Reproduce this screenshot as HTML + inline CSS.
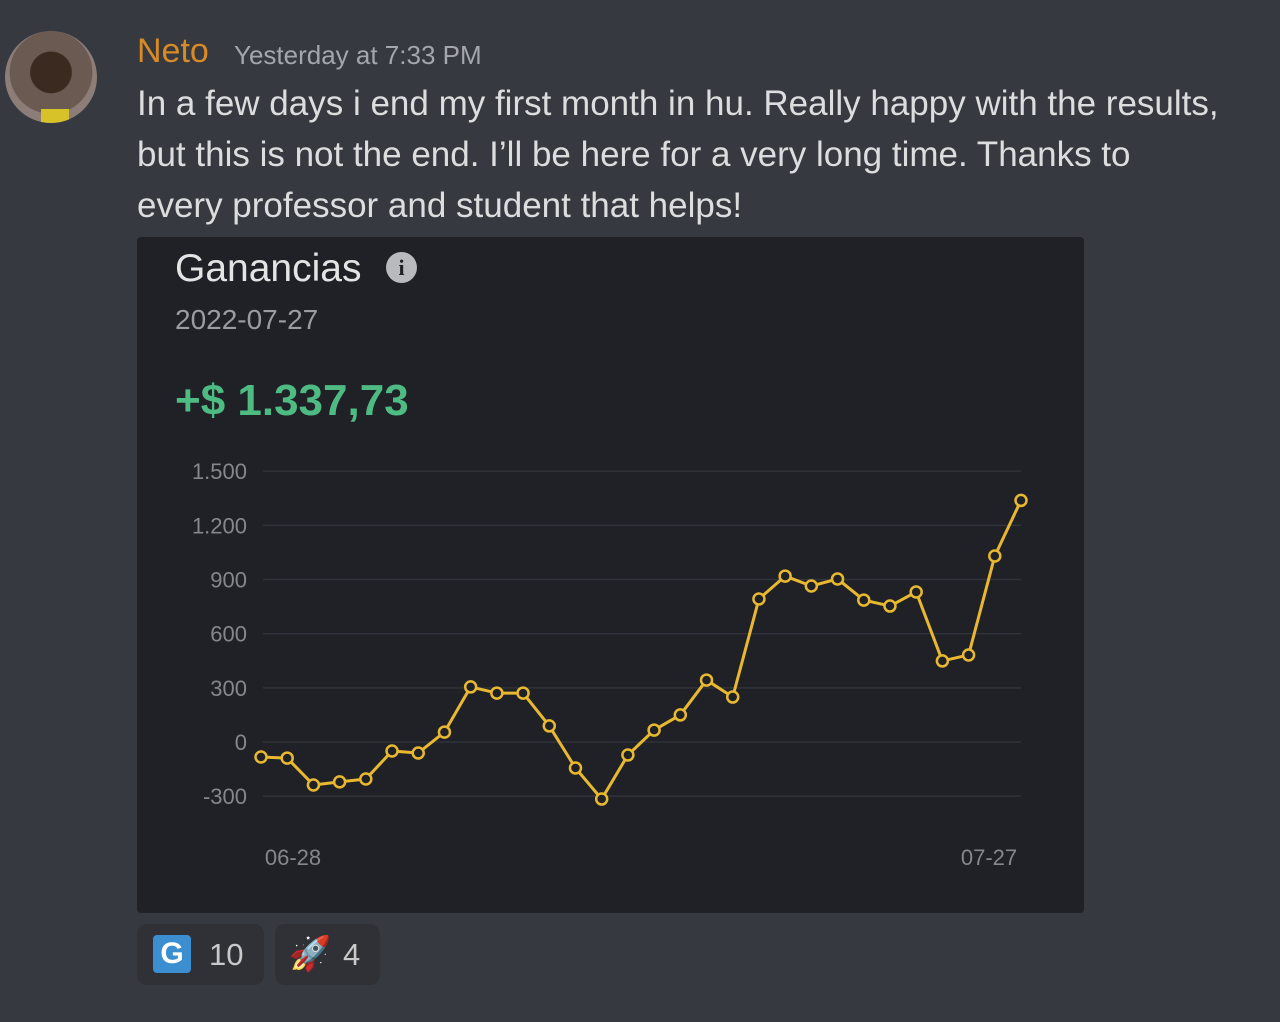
<!DOCTYPE html>
<html><head><meta charset="utf-8"><style>
body{margin:0;width:1280px;height:1022px;background:#36393f;overflow:hidden;font-family:"Liberation Sans",sans-serif;position:relative}
.abs{position:absolute;white-space:nowrap}
</style></head><body>
<div class="abs" style="left:5px;top:31px;width:92px;height:92px;border-radius:50%;background:radial-gradient(circle at 50% 45%,#3a2a20 0 30%,#6b5a52 31% 60%,#8c7d78 61%);overflow:hidden"><div style="position:absolute;left:36px;top:78px;width:28px;height:14px;background:#d8c22a"></div></div>
<div class="abs" style="left:137px;top:32px;font-size:34px;color:#d78a25">Neto</div>
<div class="abs" style="left:234px;top:40px;font-size:26px;color:#a3a6aa">Yesterday at 7:33 PM</div>
<div class="abs" style="left:137px;top:78px;font-size:35px;line-height:51px;color:#dcddde">In a few days i end my first month in hu. Really happy with the results,<br>but this is not the end. I’ll be here for a very long time. Thanks to<br>every professor and student that helps!</div>
<div class="abs" style="left:137px;top:237px;width:947px;height:676px;background:#1f2127;border-radius:4px"></div>
<div class="abs" style="left:175px;top:247px;font-size:39px;color:#e4e4e4">Ganancias</div>
<div class="abs" style="left:386px;top:252px;width:31px;height:31px;border-radius:50%;background:#b8babd;color:#1f2127;font-weight:bold;font-size:22px;text-align:center;line-height:31px;font-family:'Liberation Serif',serif">i</div>
<div class="abs" style="left:175px;top:304px;font-size:28px;color:#9a9ca0">2022-07-27</div>
<div class="abs" style="left:175px;top:376px;font-size:44px;color:#4dbb82;font-weight:bold">+$ 1.337,73</div>
<svg class="abs" style="left:0;top:0" width="1280" height="1022" id="chart"></svg>
<div class="abs" style="left:137px;top:924px;width:127px;height:61px;border-radius:10px;background:#2f3136">
<div style="position:absolute;left:16px;top:11px;width:38px;height:38px;border-radius:4px;background:#3b8fd0;color:#fff;font-weight:bold;font-size:30px;text-align:center;line-height:38px">G</div>
<div style="position:absolute;left:72px;top:13px;font-size:31px;color:#c8c9cb">10</div></div>
<div class="abs" style="left:275px;top:924px;width:105px;height:61px;border-radius:10px;background:#2f3136">
<div style="position:absolute;left:14px;top:10px;font-size:34px">🚀</div>
<div style="position:absolute;left:68px;top:13px;font-size:31px;color:#c8c9cb">4</div></div>
<script>
const yTicks=[1500,1200,900,600,300,0,-300];
const yTickLabels=["1.500","1.200","900","600","300","0","-300"];
const values=[-83,-89,-238,-221,-205,-50,-61,55,305,271,271,89,-144,-316,-72,66,150,343,249,792,919,864,903,786,753,831,449,482,1030,1338];
const xLabels=["06-28","07-27"];
const NS="http://www.w3.org/2000/svg";
const svg=document.getElementById('chart');
const y=v=>742-(v)*(325/1800);
const x=i=>261+i*(1021-261)/(values.length-1);
function mk(t,a){const e=document.createElementNS(NS,t);for(const k in a)e.setAttribute(k,a[k]);svg.appendChild(e);return e;}
yTicks.forEach((t,i)=>{
 const l=mk('line',{x1:263,x2:1021,y1:y(t),y2:y(t),stroke:'#30333a','stroke-width':1.5});
 
 
 const tx=mk('text',{x:247,y:y(t)+8,'text-anchor':'end','font-size':22,fill:'#85878c','font-family':'Liberation Sans, sans-serif'});
 tx.textContent=yTickLabels[i];
 
 
});
[[0,293],[values.length-1,989]].forEach((p,i)=>{
 const tx=mk('text',{x:p[1],y:865,'text-anchor':'middle','font-size':22,fill:'#85878c','font-family':'Liberation Sans, sans-serif'});
 tx.textContent=xLabels[i];
 
 
});
const pl=mk('polyline',{points:values.map((v,i)=>x(i)+','+y(v)).join(' '),fill:'none',stroke:'#e8b830','stroke-width':3,'stroke-linejoin':'round'});


values.forEach((v,i)=>{
 const c=mk('circle',{cx:x(i),cy:y(v),r:5.5,fill:'#1f2127',stroke:'#e8b830','stroke-width':2.5});
 
 
});
</script>
</body></html>
